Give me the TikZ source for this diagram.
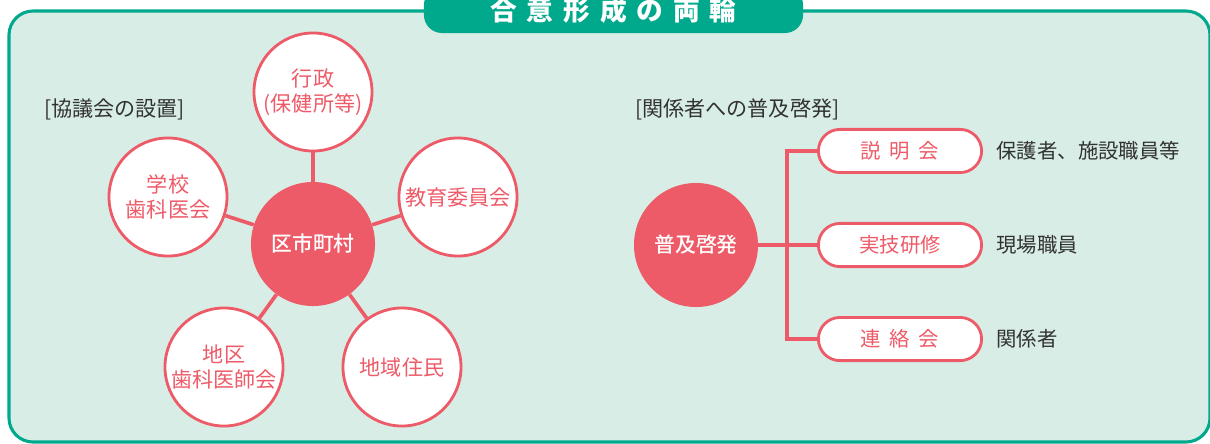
\documentclass[tikz,border=0pt]{standalone}
\usepackage{fontspec}
\setmainfont{Noto Sans CJK JP}
\newfontfamily\hubfont{Noto Sans CJK JP Medium}
\usetikzlibrary{positioning, shapes.misc}
\definecolor{panelgreen}{RGB}{0,168,140}
\definecolor{panelfill}{RGB}{216,237,229}
\definecolor{coral}{RGB}{238,91,104}
\definecolor{inkgray}{RGB}{50,50,50}

\tikzset{
  member/.style={circle, draw=coral, line width=2pt, fill=white, minimum size=2.95cm, inner sep=0pt,
    align=center, text=coral, font=\fontsize{15}{18}\selectfont},
  hub/.style={circle, fill=coral, minimum size=3.1cm, inner sep=0pt, text=white,
    font=\hubfont\fontsize{14.8}{18}\selectfont},
  event/.style={rounded rectangle, draw=coral, line width=2pt, fill=white, minimum width=4.08cm,
    minimum height=1.08cm, inner sep=0pt, text=coral, font=\fontsize{14.5}{17}\selectfont},
  target/.style={anchor=west, inner sep=0pt, text=inkgray, font=\fontsize{14.5}{17}\selectfont},
  heading/.style={anchor=west, inner sep=0pt, text=inkgray, font=\fontsize{15}{18}\selectfont},
  titletab/.style={fill=panelgreen, rounded corners=0.45cm, minimum width=9.475cm, minimum height=1.15cm,
    inner sep=0pt, text=white, font=\fontsize{19}{20}\selectfont\bfseries},
  link/.style={draw=coral, line width=2.6pt},
}

\begin{document}
\begin{tikzpicture}[x=0.025cm, y=-0.025cm]
    \useasboundingbox (0,0) rectangle (1210,443);
    % panel and title
    \draw[panelgreen, fill=panelfill, line width=2.2pt, rounded corners=0.6cm] (9,11) rectangle (1210,442);
    \node[titletab] (title) at (613.5,10) {合\hspace{0.37em}意\hspace{0.37em}形\hspace{0.37em}成\hspace{0.37em}の\hspace{0.37em}両\hspace{0.37em}輪};

    % left: council
    \node[heading] (councilhead) at (44,109) {[協議会の設置]};
    \node[hub] (kushi) at (313,244) {区市町村};
    \node[member] (gyosei) at (313,92) {行政\\(保健所等)};
    \node[member] (gakko) at (168,197) {学校\\歯科医会};
    \node[member] (kyoiku) at (458,197) {教育委員会};
    \node[member] (chiku) at (224,367) {地区\\歯科医師会};
    \node[member] (jumin) at (402,367) {地域住民};
    \draw[link] (kushi) -- (gyosei);
    \draw[link] (kushi) -- (gakko);
    \draw[link] (kushi) -- (kyoiku);
    \draw[link] (kushi) -- (chiku);
    \draw[link] (kushi) -- (jumin);

    % right: outreach
    \node[heading] (outreachhead) at (635,109) {[関係者への普及啓発]};
    \node[hub] (fukyu) at (696,245) {普及啓発};
    \node[event] (jitsugi) at (900,245) {実技研修};
    \node[event, above=1.2cm of jitsugi] (setsumei) {説\hspace{0.42em}明\hspace{0.42em}会};
    \node[event, below=1.2cm of jitsugi] (renraku) {連\hspace{0.42em}絡\hspace{0.42em}会};
    \node[target, right=0.33cm of setsumei] (hogosha) {保護者、施設職員等};
    \node[target, right=0.33cm of jitsugi] (genba) {現場職員};
    \node[target, right=0.33cm of renraku] (kankei) {関係者};
    \coordinate (fork) at (787,245);
    \draw[link] (fukyu) -- (jitsugi);
    \draw[link] (setsumei.west) -| (fork) |- (renraku.west);
\end{tikzpicture}
\end{document}
